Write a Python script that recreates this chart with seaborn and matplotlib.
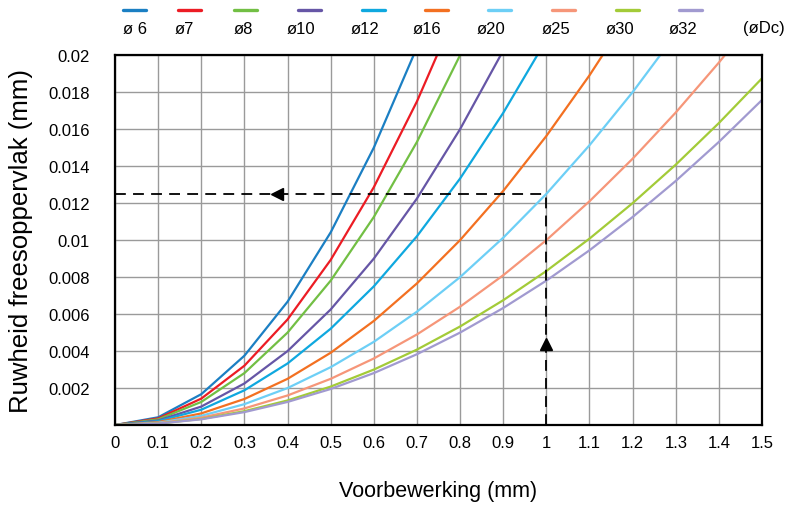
import matplotlib
matplotlib.use("Agg")
import matplotlib.pyplot as plt
from matplotlib.lines import Line2D
import seaborn as sns
import pandas as pd

# feed per pass (mm)
x_vals = [0, 0.1, 0.2, 0.3, 0.4, 0.5, 0.6, 0.7, 0.8, 0.9, 1.0, 1.1, 1.2, 1.3, 1.4, 1.5]

# roughness, per cutter diameter
d6 = [0, 0.00042, 0.00167, 0.00375, 0.00667, 0.01042, 0.015, 0.02042, 0.02667]
d7 = [0, 0.00036, 0.00143, 0.00321, 0.00571, 0.00893, 0.01286, 0.0175, 0.02286]
d8 = [0, 0.00031, 0.00125, 0.00281, 0.005, 0.00781, 0.01125, 0.01531, 0.02, 0.02531]
d10 = [0, 0.00025, 0.001, 0.00225, 0.004, 0.00625, 0.009, 0.01225, 0.016, 0.02025]
d12 = [0, 0.00021, 0.00083, 0.00188, 0.00333, 0.00521, 0.0075, 0.01021, 0.01333,
       0.01688, 0.02083]
d16 = [0, 0.00016, 0.00063, 0.00141, 0.0025, 0.00391, 0.00563, 0.00766, 0.01,
       0.01266, 0.01563, 0.01891, 0.0225]
d20 = [0, 0.000125, 0.0005, 0.00113, 0.002, 0.00313, 0.0045, 0.00613, 0.008,
       0.01013, 0.0125, 0.01513, 0.018, 0.02113]
d25 = [0, 0.0001, 0.0004, 0.0009, 0.0016, 0.0025, 0.0036, 0.0049, 0.0064, 0.0081,
       0.01, 0.0121, 0.0144, 0.0169, 0.0196, 0.0225]
d30 = [0, 0.00008, 0.00033, 0.00075, 0.00133, 0.00208, 0.003, 0.00408, 0.00533,
       0.00675, 0.00833, 0.01008, 0.012, 0.01408, 0.01633, 0.01875]
d32 = [0, 0.00008, 0.00031, 0.0007, 0.00125, 0.00195, 0.00281, 0.00383, 0.005,
       0.00633, 0.00781, 0.00945, 0.01125, 0.0132, 0.01531, 0.01758]

labels = ["ø 6", "ø7", "ø8", "ø10", "ø12", "ø16", "ø20", "ø25", "ø30", "ø32"]
series = [d6, d7, d8, d10, d12, d16, d20, d25, d30, d32]
colors = ["#1b7fc3", "#ec1c24", "#72bf44", "#6656a6", "#0fa8df",
          "#f37021", "#6dcff6", "#f69679", "#a3cb38", "#a19ad0"]

# example reading: feed 1 mm, roughness 0.0125 mm
read_x = 1.0
read_y = 0.0125

x_ticks = [0, 0.1, 0.2, 0.3, 0.4, 0.5, 0.6, 0.7, 0.8, 0.9, 1, 1.1, 1.2, 1.3, 1.4, 1.5]
x_ticklabels = ["0", "0.1", "0.2", "0.3", "0.4", "0.5", "0.6", "0.7", "0.8", "0.9",
                "1", "1.1", "1.2", "1.3", "1.4", "1.5"]
y_ticks = [0.002, 0.004, 0.006, 0.008, 0.01, 0.012, 0.014, 0.016, 0.018, 0.02]
y_ticklabels = ["0.002", "0.004", "0.006", "0.008", "0.01", "0.012", "0.014",
                "0.016", "0.018", "0.02"]

rows = []
for lab, ys in zip(labels, series):
    for xv, yv in zip(x_vals, ys):
        rows.append({"voor": xv, "ruw": yv, "dc": lab})
df = pd.DataFrame(rows)

sns.set_style("white")
plt.rcParams["font.family"] = ["Liberation Sans", "DejaVu Sans"]
plt.rcParams["text.color"] = "black"
plt.rcParams["axes.labelcolor"] = "black"
plt.rcParams["xtick.color"] = "black"
plt.rcParams["ytick.color"] = "black"

fig = plt.figure(figsize=(7.9, 5.06), dpi=100)
ax = fig.add_axes([0.1456, 0.158, 0.819, 0.731])

sns.lineplot(data=df, x="voor", y="ruw", hue="dc", hue_order=labels,
             palette=colors, legend=False, linewidth=1.6, ax=ax)

# dashed reading lines with arrows
ax.plot([0, read_x], [read_y, read_y], color="black", linestyle=(0, (6, 4)), lw=1.3)
ax.plot([read_x, read_x], [0, read_y], color="black", linestyle=(0, (6, 4)), lw=1.3)
ax.plot([0.376], [read_y], marker="<", color="black", markersize=9)
ax.plot([read_x], [0.0044], marker="^", color="black", markersize=9)

ax.set_xlim(0, 1.5)
ax.set_ylim(0, 0.02)
ax.set_xticks(x_ticks)
ax.set_xticklabels(x_ticklabels)
ax.set_yticks(y_ticks)
ax.set_yticklabels(y_ticklabels)
ax.tick_params(axis="x", length=0, labelsize=12, pad=7)
ax.tick_params(axis="y", length=0, labelsize=12, pad=18)
ax.grid(True, color="#9a9a9a", linewidth=1.0)
for sp in ax.spines.values():
    sp.set_color("black")
    sp.set_linewidth(1.6)

ax.set_xlabel("Voorbewerking (mm)", fontsize=15.5, labelpad=22)
ax.set_ylabel("Ruwheid freesoppervlak (mm)", fontsize=18.5, labelpad=11)

# legend across the top: line segment above each label (pixel positions)
line_px = [123, 178, 234, 298, 362, 425, 488, 552, 616, 679]
text_px = [123, 175, 234, 287, 351, 413, 477, 542, 606, 669]
for lab, c, lx, tx in zip(labels, colors, line_px, text_px):
    fig.add_artist(Line2D([lx / 790, (lx + 23) / 790], [1 - 11 / 506, 1 - 11 / 506],
                          color=c, lw=2.4, transform=fig.transFigure))
    fig.text(tx / 790, 1 - 29 / 506, lab, fontsize=12, ha="left", va="center")
fig.text(743 / 790, 1 - 29 / 506, "(øDc)", fontsize=12, ha="left", va="center")

fig.savefig("out.png", dpi=100)
